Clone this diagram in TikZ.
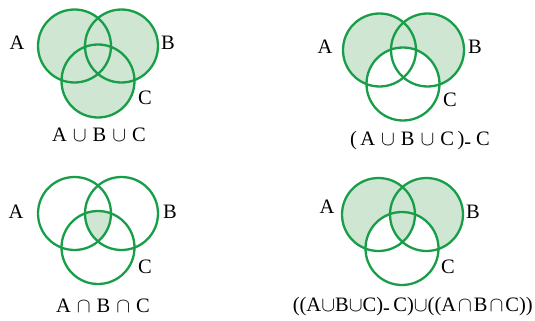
\documentclass[tikz,border=0pt]{standalone}
\usepackage{fontspec}
\setmainfont{Liberation Serif}
\usetikzlibrary{calc}
\definecolor{venngreen}{RGB}{24,158,72}
\definecolor{vennfill}{RGB}{206,230,210}
\newcommand{\setU}{\hspace{6pt}$\cup$\hspace{6pt}}
\newcommand{\setI}{\hspace{6pt}$\cap$\hspace{6pt}}
\newcommand{\lowdash}{\raisebox{-3pt}{-}}

\begin{document}
\begin{tikzpicture}[x=1pt, y=-1pt, font=\fontsize{20.5}{24}\selectfont]
\def\rad{36.5}
\tikzset{ring/.style={draw=venngreen, line width=2.3pt},
         lbl/.style={inner sep=0pt}}
\useasboundingbox (0,0) rectangle (535,321);

% centres of the four diagrams
\coordinate (a1) at (74.5,46);
\coordinate (b1) at ($(a1)+(47,0)$);
\coordinate (c1) at ($(a1)+(23.5,35)$);
\coordinate (a2) at (379.5,50);
\coordinate (b2) at ($(a2)+(48,0)$);
\coordinate (c2) at ($(a2)+(23.5,34)$);
\coordinate (a3) at (74.5,213.5);
\coordinate (b3) at ($(a3)+(47,0)$);
\coordinate (c3) at ($(a3)+(23.5,34)$);
\coordinate (a4) at (378.5,214.5);
\coordinate (b4) at ($(a4)+(48,0)$);
\coordinate (c4) at ($(a4)+(23.5,34)$);

% shading
\fill[vennfill] (a1) circle (\rad) (b1) circle (\rad) (c1) circle (\rad);

\begin{scope}[even odd rule]
  \clip (c2) circle (\rad) (0,0) rectangle (535,321);
  \fill[vennfill] (a2) circle (\rad);
  \fill[vennfill] (b2) circle (\rad);
\end{scope}

\begin{scope}
  \clip (a3) circle (\rad);
  \clip (b3) circle (\rad);
  \fill[vennfill] (c3) circle (\rad);
\end{scope}

\begin{scope}[even odd rule]
  \clip (c4) circle (\rad) (0,0) rectangle (535,321);
  \fill[vennfill] (a4) circle (\rad);
  \fill[vennfill] (b4) circle (\rad);
\end{scope}
\begin{scope}
  \clip (a4) circle (\rad);
  \clip (b4) circle (\rad);
  \fill[vennfill] (c4) circle (\rad);
\end{scope}

% circles
\foreach \k in {1,2,3,4} {
  \draw[ring] (a\k) circle (\rad);
  \draw[ring] (b\k) circle (\rad);
  \draw[ring] (c\k) circle (\rad);
}

% set names
\node[lbl] (nameA1) at (17,43) {A};
\node[lbl] (nameB1) at (168,43) {B};
\node[lbl] (nameC1) at (145,98) {C};
\node[lbl] (nameA2) at (325,47) {A};
\node[lbl] (nameB2) at (475,47) {B};
\node[lbl] (nameC2) at (450,100) {C};
\node[lbl] (nameA3) at (16,212) {A};
\node[lbl] (nameB3) at (170,212) {B};
\node[lbl] (nameC3) at (145,267) {C};
\node[lbl] (nameA4) at (327,207) {A};
\node[lbl] (nameB4) at (473,212) {B};
\node[lbl] (nameC4) at (448,267) {C};

% captions
\node[lbl] (cap1) at (99,135) {A\setU B\setU C};
\node[lbl] (cap2) at (420,141) {(\,A\setU B\setU C\,)\lowdash\hspace{5pt}C};
\node[lbl] (cap3) at (103,306) {A\setI B\setI C};
\node[lbl, anchor=east] (cap4) at (533,307)
  {((A$\cup$B$\cup$C)\lowdash\,C)$\cup$((A\hspace{2pt}$\cap$\hspace{2pt}B\hspace{2pt}$\cap$\hspace{2pt}C))};
\end{tikzpicture}
\end{document}
